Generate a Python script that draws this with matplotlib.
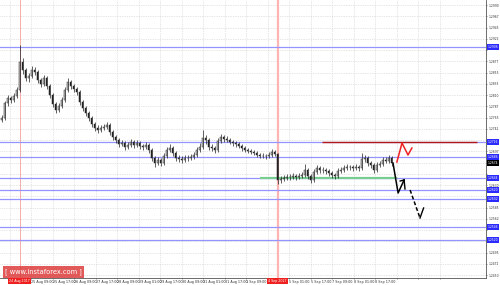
import numpy as np
import matplotlib
matplotlib.use('Agg')
import matplotlib.pyplot as plt
import matplotlib.transforms as mtransforms

# hourly candles
opens = [1.2760, 1.2764, 1.2794, 1.2804, 1.2800, 1.2808, 1.2820, 1.2876, 1.2860, 1.2844,
         1.2848, 1.2860, 1.2856, 1.2840, 1.2832, 1.2844, 1.2828, 1.2810, 1.2792, 1.2780,
         1.2788, 1.2800, 1.2820, 1.2836, 1.2828, 1.2822, 1.2816, 1.2796, 1.2784, 1.2774,
         1.2764, 1.2752, 1.2744, 1.2740, 1.2744, 1.2746, 1.2750, 1.2736, 1.2726, 1.2720,
         1.2712, 1.2714, 1.2706, 1.2710, 1.2716, 1.2710, 1.2714, 1.2708, 1.2706, 1.2710,
         1.2700, 1.2684, 1.2674, 1.2680, 1.2674, 1.2688, 1.2700, 1.2704, 1.2694, 1.2684,
         1.2682, 1.2680, 1.2684, 1.2684, 1.2686, 1.2690, 1.2700, 1.2706, 1.2724, 1.2720,
         1.2706, 1.2704, 1.2700, 1.2718, 1.2726, 1.2722, 1.2720, 1.2716, 1.2714, 1.2712,
         1.2708, 1.2704, 1.2700, 1.2698, 1.2696, 1.2694, 1.2690, 1.2688, 1.2688, 1.2688,
         1.2690, 1.2696, 1.2692, 1.2640, 1.2642, 1.2644, 1.2646, 1.2646, 1.2648, 1.2646,
         1.2648, 1.2650, 1.2660, 1.2648, 1.2640, 1.2656, 1.2664, 1.2660, 1.2660, 1.2658,
         1.2654, 1.2650, 1.2648, 1.2658, 1.2660, 1.2664, 1.2666, 1.2666, 1.2664, 1.2666,
         1.2664, 1.2682, 1.2684, 1.2674, 1.2670, 1.2660, 1.2670, 1.2672, 1.2680, 1.2678,
         1.2684]
closes = [1.2764, 1.2794, 1.2804, 1.2800, 1.2808, 1.2820, 1.2876, 1.2860, 1.2844, 1.2848,
          1.2860, 1.2856, 1.2840, 1.2832, 1.2844, 1.2828, 1.2810, 1.2792, 1.2780, 1.2788,
          1.2800, 1.2820, 1.2836, 1.2828, 1.2822, 1.2816, 1.2796, 1.2784, 1.2774, 1.2764,
          1.2752, 1.2744, 1.2740, 1.2744, 1.2746, 1.2750, 1.2736, 1.2726, 1.2720, 1.2712,
          1.2714, 1.2706, 1.2710, 1.2716, 1.2710, 1.2714, 1.2708, 1.2706, 1.2710, 1.2700,
          1.2684, 1.2674, 1.2680, 1.2674, 1.2688, 1.2700, 1.2704, 1.2694, 1.2684, 1.2682,
          1.2680, 1.2684, 1.2684, 1.2686, 1.2690, 1.2700, 1.2706, 1.2724, 1.2720, 1.2706,
          1.2704, 1.2700, 1.2718, 1.2726, 1.2722, 1.2720, 1.2716, 1.2714, 1.2712, 1.2708,
          1.2704, 1.2700, 1.2698, 1.2696, 1.2694, 1.2690, 1.2688, 1.2688, 1.2688, 1.2690,
          1.2696, 1.2692, 1.2640, 1.2642, 1.2644, 1.2646, 1.2646, 1.2648, 1.2646, 1.2648,
          1.2650, 1.2660, 1.2648, 1.2640, 1.2656, 1.2664, 1.2660, 1.2660, 1.2658, 1.2654,
          1.2650, 1.2648, 1.2658, 1.2660, 1.2664, 1.2666, 1.2666, 1.2664, 1.2666, 1.2664,
          1.2682, 1.2684, 1.2674, 1.2670, 1.2660, 1.2670, 1.2672, 1.2680, 1.2678, 1.2684,
          1.2674]
highs = [1.2770, 1.2798, 1.2810, 1.2808, 1.2814, 1.2826, 1.2910, 1.2884, 1.2864, 1.2854,
         1.2868, 1.2866, 1.2860, 1.2844, 1.2850, 1.2848, 1.2832, 1.2814, 1.2796, 1.2794,
         1.2806, 1.2826, 1.2844, 1.2840, 1.2832, 1.2826, 1.2820, 1.2800, 1.2788, 1.2778,
         1.2768, 1.2756, 1.2750, 1.2750, 1.2752, 1.2756, 1.2754, 1.2740, 1.2730, 1.2724,
         1.2720, 1.2718, 1.2716, 1.2722, 1.2720, 1.2720, 1.2718, 1.2712, 1.2716, 1.2714,
         1.2704, 1.2688, 1.2686, 1.2684, 1.2694, 1.2706, 1.2712, 1.2708, 1.2698, 1.2690,
         1.2688, 1.2690, 1.2690, 1.2692, 1.2696, 1.2706, 1.2714, 1.2740, 1.2730, 1.2724,
         1.2712, 1.2708, 1.2724, 1.2732, 1.2730, 1.2728, 1.2724, 1.2720, 1.2718, 1.2716,
         1.2712, 1.2708, 1.2704, 1.2702, 1.2700, 1.2698, 1.2694, 1.2694, 1.2692, 1.2696,
         1.2702, 1.2700, 1.2694, 1.2648, 1.2650, 1.2652, 1.2652, 1.2654, 1.2652, 1.2654,
         1.2656, 1.2672, 1.2664, 1.2652, 1.2662, 1.2670, 1.2668, 1.2666, 1.2664, 1.2662,
         1.2658, 1.2654, 1.2664, 1.2666, 1.2670, 1.2672, 1.2670, 1.2670, 1.2672, 1.2670,
         1.2694, 1.2690, 1.2688, 1.2678, 1.2674, 1.2676, 1.2678, 1.2686, 1.2686, 1.2690,
         1.2688]
lows = [1.2756, 1.2760, 1.2788, 1.2794, 1.2796, 1.2804, 1.2816, 1.2852, 1.2838, 1.2836,
        1.2844, 1.2850, 1.2834, 1.2826, 1.2828, 1.2822, 1.2804, 1.2786, 1.2774, 1.2776,
        1.2784, 1.2796, 1.2816, 1.2822, 1.2816, 1.2810, 1.2790, 1.2778, 1.2768, 1.2758,
        1.2746, 1.2738, 1.2734, 1.2736, 1.2740, 1.2742, 1.2730, 1.2720, 1.2714, 1.2706,
        1.2708, 1.2700, 1.2702, 1.2706, 1.2704, 1.2706, 1.2702, 1.2700, 1.2702, 1.2694,
        1.2678, 1.2666, 1.2670, 1.2668, 1.2670, 1.2684, 1.2696, 1.2688, 1.2678, 1.2676,
        1.2674, 1.2676, 1.2678, 1.2680, 1.2682, 1.2686, 1.2696, 1.2702, 1.2712, 1.2700,
        1.2698, 1.2694, 1.2696, 1.2714, 1.2716, 1.2716, 1.2712, 1.2708, 1.2706, 1.2704,
        1.2698, 1.2696, 1.2694, 1.2692, 1.2690, 1.2686, 1.2684, 1.2684, 1.2682, 1.2684,
        1.2686, 1.2688, 1.2632, 1.2634, 1.2638, 1.2640, 1.2640, 1.2642, 1.2640, 1.2642,
        1.2644, 1.2646, 1.2642, 1.2634, 1.2636, 1.2652, 1.2654, 1.2654, 1.2652, 1.2648,
        1.2644, 1.2642, 1.2644, 1.2654, 1.2656, 1.2660, 1.2660, 1.2658, 1.2660, 1.2658,
        1.2660, 1.2676, 1.2668, 1.2664, 1.2654, 1.2656, 1.2666, 1.2668, 1.2674, 1.2674,
        1.2668]

# horizontal levels drawn on the chart
levels = [1.2906, 1.2716, 1.2686, 1.2644, 1.2620, 1.2602, 1.2546, 1.2520]
resistance = 1.2716
support = 1.2644

# forecast paths (candle index, price)
up_x = [131.8, 133.5, 135.5, 136.8]
up_y = [1.2676, 1.2714, 1.2690, 1.2704]
down_x = [130.5, 132.2, 134.2]
down_y = [1.2674, 1.2614, 1.2640]
down2_x = [136.2, 139.5]
down2_y = [1.2620, 1.2564]

event_idx = [6, 92]
event_labels = ['24 Aug 2017', '4 Sep 2017']

date_labels = ['', '25 Aug 09:00', '25 Aug 17:00', '26 Aug 09:00', '27 Aug 17:00',
               '28 Aug 09:00', '29 Aug 01:00', '29 Aug 17:00', '30 Aug 09:00',
               '31 Aug 01:00', '31 Aug 17:00', '1 Sep 09:00', '', '5 Sep 01:00',
               '5 Sep 17:00', '7 Sep 09:00', '8 Sep 01:00', '8 Sep 17:00',
               '', '', '']

W, H = 500, 285
fig = plt.figure(figsize=(W / 100, H / 100), dpi=100)
fig.patch.set_facecolor('white')
ax = fig.add_axes([0, 7 / H, 486 / W, 278 / H])

x = np.arange(len(closes))
o = np.array(opens)
c = np.array(closes)

ax.set_xlim(-0.5, 161.5)
ax.set_ylim(1.2444, 1.3000)

# grid
grid_prices = 1.2990 - 0.00225 * np.arange(25)
grid_x = 2.83 + (21.5 / 3) * np.arange(len(date_labels))
for gy in grid_prices:
    ax.axhline(gy, color='#cccccc', lw=0.5, ls=(0, (1, 1.5)), zorder=0)
for gx in grid_x:
    ax.axvline(gx, color='#cccccc', lw=0.5, ls=(0, (1, 1.5)), zorder=0)

# event lines
ax.axvline(event_idx[0], color='#f4a0a0', lw=0.6, zorder=1)
ax.axvline(event_idx[1], color='#ffb4b4', lw=1.6, zorder=1)

# levels
for lv in levels:
    ax.axhline(lv, color='#9494ff', lw=0.9, zorder=2)
ax.hlines(resistance, 106.8, 158.5, color='#b01818', lw=1.0, zorder=3)
ax.hlines(support, 86.2, 131.8, color='#77cc90', lw=1.6, zorder=3)

# candles
ax.vlines(x, lows, highs, color='#222222', lw=0.5, zorder=4)
bull = c >= o
ax.bar(x[bull], c[bull] - o[bull], bottom=o[bull], width=0.65,
       color='white', edgecolor='#222222', lw=0.35, zorder=5)
ax.bar(x[~bull], c[~bull] - o[~bull], bottom=o[~bull], width=0.65,
       color='#222222', edgecolor='#222222', lw=0.35, zorder=5)

# forecast
ax.plot(up_x, up_y, color='#ee2222', lw=1.1, zorder=6)
ax.plot(down_x, down_y, color='black', lw=1.1, zorder=6)
ax.plot([down_x[-1], down_x[-1] - 1.3], [down_y[-1], down_y[-1] - 0.0002], color='black', lw=1.0, zorder=6)
ax.plot([down_x[-1], down_x[-1] + 0.3], [down_y[-1], down_y[-1] - 0.0018], color='black', lw=1.0, zorder=6)
ax.plot(down2_x, down2_y, color='black', lw=1.1, ls=(0, (2.5, 1.5)), zorder=6)
ax.plot([down2_x[-1], down2_x[-1] + 1.2], [down2_y[-1], down2_y[-1] + 0.0020], color='black', lw=1.0, zorder=6)

# axes look
for s in ['top', 'left']:
    ax.spines[s].set_visible(False)
ax.spines['right'].set_color('#555555')
ax.spines['bottom'].set_color('#555555')
ax.spines['right'].set_linewidth(0.6)
ax.spines['bottom'].set_linewidth(0.6)

# right scale; labels hidden under the level boxes are left out, as in the reference
marked = levels + [closes[-1]]
ylabels = []
for p in grid_prices:
    if min(abs(p - m) for m in marked) < 0.0009:
        ylabels.append('')
    else:
        ylabels.append(f'{p:.4f}')
ax.yaxis.tick_right()
ax.set_yticks(grid_prices)
ax.set_yticklabels(ylabels)
ax.tick_params(axis='y', labelsize=2.2, length=1, width=0.4, pad=0.6, colors='#333333')
ax.set_xticks(grid_x)
ax.set_xticklabels(date_labels, ha='left')
ax.tick_params(axis='x', labelsize=2.4, length=1, width=0.4, pad=0.6, colors='#333333')

# price boxes on the right scale
ty = mtransforms.blended_transform_factory(ax.transAxes, ax.transData)
for lv in levels:
    ax.text(1.004, lv, f'{lv:.4f}', transform=ty, fontsize=2.2, color='white',
            va='center', ha='left', clip_on=False, zorder=10,
            bbox=dict(boxstyle='square,pad=0.2', fc='#2b2bff', ec='none'))
ax.text(1.004, closes[-1], f'{closes[-1]:.4f}', transform=ty, fontsize=2.2, color='white',
        va='center', ha='left', clip_on=False, zorder=10,
        bbox=dict(boxstyle='square,pad=0.2', fc='black', ec='none'))

# event date boxes on the time scale
tx = mtransforms.blended_transform_factory(ax.transData, ax.transAxes)
for ei, el in zip(event_idx, event_labels):
    ax.text(ei, -0.005, el, transform=tx, fontsize=2.3, color='white',
            va='top', ha='center', clip_on=False, zorder=10,
            bbox=dict(boxstyle='square,pad=0.3', fc='#ee2020', ec='none'))

# watermark
fig.text(43.5 / W, 1 - 272 / H, '[ www.instaforex.com ]', fontsize=4.8, color='white',
         ha='center', va='center', zorder=20,
         bbox=dict(boxstyle='square,pad=0.35', fc='#dd3c3c', ec='none', alpha=0.85))

fig.savefig('out.png', dpi=100)
